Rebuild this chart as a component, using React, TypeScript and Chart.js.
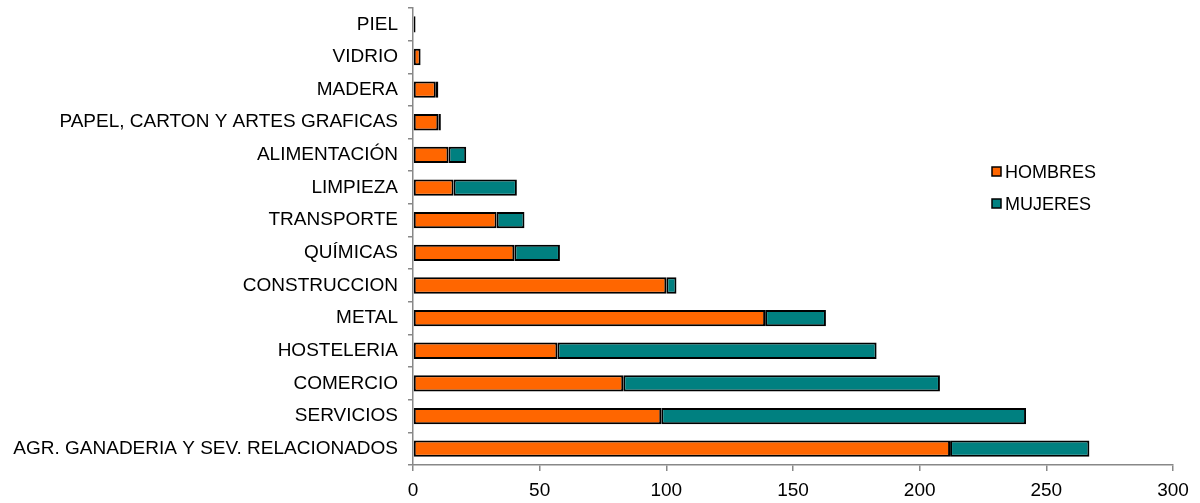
import React, { useEffect, useRef } from "react";
import { Chart, registerables } from "chart.js";

Chart.register(...registerables);

const categories = [
  "PIEL",
  "VIDRIO",
  "MADERA",
  "PAPEL, CARTON Y ARTES GRAFICAS",
  "ALIMENTACIÓN",
  "LIMPIEZA",
  "TRANSPORTE",
  "QUÍMICAS",
  "CONSTRUCCION",
  "METAL",
  "HOSTELERIA",
  "COMERCIO",
  "SERVICIOS",
  "AGR. GANADERIA Y SEV. RELACIONADOS",
];
const hombres = [1, 3, 9, 10, 14, 16, 33, 40, 100, 139, 57, 83, 98, 212];
const mujeres = [0, 0, 1, 1, 7, 25, 11, 18, 4, 24, 126, 125, 144, 55];
const seriesNames = ["HOMBRES", "MUJERES"];
const seriesColors = ["#FF6600", "#008080"];
const xTicks = [0, 50, 100, 150, 200, 250, 300];

const FONT = "'Liberation Sans', Arial, sans-serif";

const legendPlugin = {
  id: "customLegend",
  afterDraw(chart: any) {
    const ctx = chart.ctx;
    ctx.save();
    ctx.font = `18px ${FONT}`;
    ctx.textBaseline = "middle";
    ctx.textAlign = "left";
    const x = 992;
    const ys = [172, 204];
    seriesNames.forEach((name, i) => {
      const y = ys[i];
      ctx.fillStyle = seriesColors[i];
      ctx.fillRect(x, y - 5, 9, 9);
      ctx.strokeStyle = "#000";
      ctx.lineWidth = 1.5;
      ctx.strokeRect(x, y - 5, 9, 9);
      ctx.fillStyle = "#000";
      ctx.fillText(name, x + 13, y + 1);
    });
    ctx.restore();
  },
};

export default function App() {
  const ref = useRef<HTMLCanvasElement>(null);
  useEffect(() => {
    document.body.style.margin = "0";
    const ds = (i: number, data: number[]) => ({
      label: seriesNames[i],
      data,
      backgroundColor: seriesColors[i],
      borderColor: "#000",
      borderWidth: 2,
      borderSkipped: false,
      barPercentage: 0.5,
      categoryPercentage: 1,
    });
    const chart = new Chart(ref.current!, {
      type: "bar",
      data: {
        labels: categories,
        datasets: [ds(0, hombres), ds(1, mujeres)],
      },
      options: {
        indexAxis: "y",
        animation: false,
        responsive: false,
        maintainAspectRatio: false,
        layout: { padding: { left: 0, right: 27, top: 8, bottom: 0 } },
        plugins: {
          legend: { display: false },
          tooltip: { enabled: false },
        },
        scales: {
          x: {
            stacked: true,
            min: 0,
            max: 300,
            afterBuildTicks: (s: any) => {
              s.ticks = xTicks.map((v) => ({ value: v }));
            },
            afterFit: (s: any) => {
              s.height = 38;
            },
            border: { display: true, color: "#888", width: 1.5 },
            grid: {
              display: true,
              drawOnChartArea: false,
              drawTicks: true,
              tickLength: 6,
              color: "#888",
              lineWidth: 1.5,
            },
            ticks: {
              color: "#000",
              font: { family: FONT, size: 19 },
              padding: 8,
            },
          },
          y: {
            stacked: true,
            afterFit: (s: any) => {
              s.width = 413;
              s.paddingTop = 0;
              s.paddingBottom = 0;
            },
            border: { display: true, color: "#888", width: 1.5 },
            grid: {
              display: true,
              offset: true,
              drawOnChartArea: false,
              drawTicks: true,
              tickLength: 5,
              color: "#888",
              lineWidth: 1.5,
            },
            ticks: {
              color: "#000",
              font: { family: FONT, size: 19 },
              padding: 10,
              autoSkip: false,
            },
          },
        },
      },
      plugins: [legendPlugin],
    });
    return () => chart.destroy();
  }, []);
  return (
    <div style={{ position: "absolute", left: 0, top: 0, width: 1200, height: 503 }}>
      <canvas ref={ref} width={1200} height={503} />
    </div>
  );
}
